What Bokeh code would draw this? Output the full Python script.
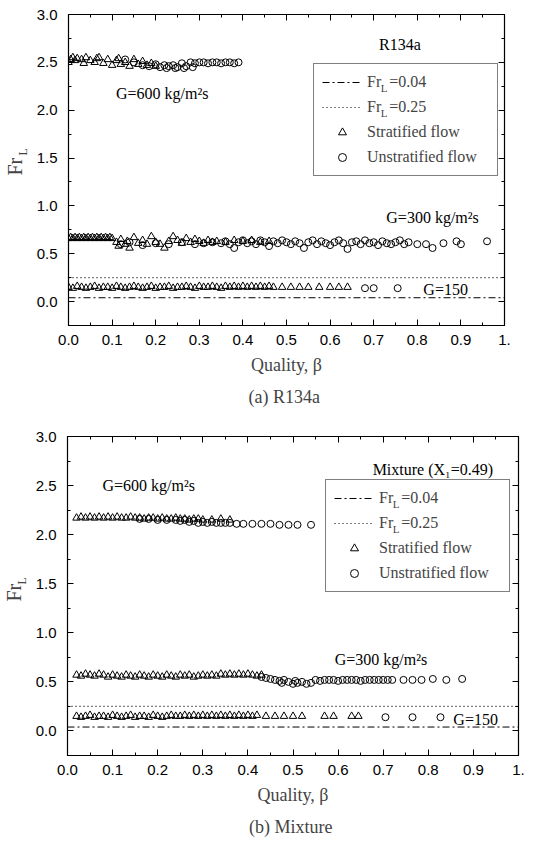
from bokeh.plotting import figure
from bokeh.models import FixedTicker, LinearAxis, Legend, LegendItem, Label, Title, Range1d
from bokeh.embed import file_html
from bokeh.resources import INLINE

# ---------------- axes / ticks ----------------
x_ticks = [0.0, 0.1, 0.2, 0.3, 0.4, 0.5, 0.6, 0.7, 0.8, 0.9, 1.0]
x_tick_labels = ["0.0", "0.1", "0.2", "0.3", "0.4", "0.5", "0.6", "0.7", "0.8", "0.9", "1."]
x_minor = [0.05, 0.15, 0.25, 0.35, 0.45, 0.55, 0.65, 0.75, 0.85, 0.95]
y_ticks = [0.0, 0.5, 1.0, 1.5, 2.0, 2.5, 3.0]
y_tick_labels = ["0.0", "0.5", "1.0", "1.5", "2.0", "2.5", "3.0"]
y_minor = [-0.25, 0.25, 0.75, 1.25, 1.75, 2.25, 2.75]
x_limits = [0.0, 1.0]
y_limits = [-0.25, 3.0]
fr_levels = [0.04, 0.25]
fr_values = ["=0.04", "=0.25"]

# ---------------- (a) R134a ----------------
a600_s_x = [0.000, 0.005, 0.010, 0.015, 0.020, 0.030, 0.035, 0.040, 0.050, 0.060, 0.065, 0.070, 0.080,
            0.090, 0.100, 0.110, 0.115, 0.120, 0.130, 0.140, 0.150, 0.160, 0.170, 0.180, 0.190, 0.200]
a600_s_y = [2.50, 2.53, 2.55, 2.52, 2.54, 2.53, 2.49, 2.55, 2.52, 2.50, 2.54, 2.55, 2.49,
            2.53, 2.47, 2.52, 2.54, 2.48, 2.50, 2.46, 2.53, 2.48, 2.51, 2.47, 2.49, 2.46]
a600_u_x = [0.130, 0.150, 0.170, 0.185, 0.200, 0.210, 0.220, 0.225, 0.230, 0.240, 0.245, 0.250, 0.260, 0.265,
            0.270, 0.280, 0.285, 0.290, 0.300, 0.310, 0.320, 0.330, 0.340, 0.350, 0.360, 0.370, 0.380, 0.390]
a600_u_y = [2.53, 2.50, 2.47, 2.46, 2.48, 2.45, 2.47, 2.44, 2.46, 2.47, 2.44, 2.45, 2.49, 2.44,
            2.46, 2.50, 2.45, 2.49, 2.50, 2.50, 2.49, 2.50, 2.50, 2.49, 2.50, 2.50, 2.49, 2.50]

a300_s_x = [0.000, 0.005, 0.010, 0.015, 0.020, 0.025, 0.030, 0.035, 0.040, 0.045, 0.050, 0.055, 0.060, 0.065,
            0.070, 0.075, 0.080, 0.085, 0.090, 0.095, 0.100,
            0.110, 0.115, 0.120, 0.130, 0.135, 0.140, 0.150, 0.160, 0.170, 0.180, 0.190, 0.200, 0.210, 0.220,
            0.230, 0.240, 0.250, 0.260, 0.270, 0.280, 0.290, 0.300, 0.310, 0.320, 0.330, 0.340, 0.360, 0.380,
            0.400, 0.420, 0.440, 0.460]
a300_s_y = [0.66, 0.67, 0.66, 0.67, 0.66, 0.67, 0.66, 0.67, 0.66, 0.67, 0.66, 0.67, 0.66, 0.67,
            0.66, 0.67, 0.66, 0.67, 0.66, 0.67, 0.66,
            0.62, 0.58, 0.65, 0.60, 0.63, 0.56, 0.67, 0.61, 0.64, 0.60, 0.68, 0.62, 0.60, 0.56,
            0.63, 0.68, 0.64, 0.61, 0.66, 0.62, 0.65, 0.63, 0.61, 0.64, 0.62, 0.63, 0.62, 0.64,
            0.63, 0.64, 0.62, 0.63]
a300_u_x = [0.12, 0.14, 0.17, 0.20, 0.23, 0.26, 0.29, 0.31, 0.33, 0.35,
            0.36, 0.37, 0.38, 0.39, 0.40, 0.41, 0.42, 0.43, 0.44, 0.45,
            0.46, 0.47, 0.48, 0.49, 0.50, 0.51, 0.52, 0.53, 0.54, 0.55,
            0.56, 0.57, 0.58, 0.59, 0.60, 0.61, 0.62, 0.63, 0.64, 0.65,
            0.66, 0.67, 0.68, 0.69, 0.70, 0.71, 0.72, 0.73, 0.74, 0.75,
            0.76, 0.77, 0.78, 0.80, 0.82, 0.835, 0.86, 0.89, 0.90, 0.96]
a300_u_y = [0.60, 0.62, 0.59, 0.61, 0.60, 0.62, 0.60, 0.61, 0.62, 0.61,
            0.63, 0.60, 0.56, 0.62, 0.64, 0.61, 0.63, 0.60, 0.64, 0.62,
            0.58, 0.63, 0.61, 0.64, 0.62, 0.60, 0.63, 0.61, 0.56, 0.62,
            0.64, 0.60, 0.63, 0.61, 0.59, 0.62, 0.64, 0.61, 0.55, 0.62,
            0.63, 0.60, 0.64, 0.61, 0.62, 0.59, 0.63, 0.61, 0.60, 0.62,
            0.64, 0.60, 0.62, 0.60, 0.60, 0.56, 0.61, 0.63, 0.60, 0.63]

a150_s_x = [0.00, 0.01, 0.02, 0.03, 0.04, 0.05, 0.06, 0.07, 0.08, 0.09,
            0.10, 0.11, 0.12, 0.13, 0.14, 0.15, 0.16, 0.17, 0.18, 0.19,
            0.20, 0.21, 0.22, 0.23, 0.24, 0.25, 0.26, 0.27, 0.28, 0.29,
            0.30, 0.31, 0.32, 0.33, 0.34, 0.35, 0.36, 0.37, 0.38, 0.39,
            0.40, 0.41, 0.42, 0.43, 0.44, 0.45, 0.46, 0.47,
            0.49, 0.51, 0.53, 0.55, 0.575, 0.60, 0.62, 0.64]
a150_s_y = [0.15, 0.14, 0.16, 0.15, 0.14, 0.15, 0.16, 0.14, 0.15, 0.15,
            0.14, 0.16, 0.15, 0.14, 0.15, 0.16, 0.15, 0.14, 0.15, 0.16,
            0.14, 0.15, 0.15, 0.16, 0.14, 0.15, 0.15, 0.16, 0.15, 0.14,
            0.16, 0.15, 0.15, 0.16, 0.15, 0.14, 0.16, 0.15, 0.16, 0.15,
            0.16, 0.15, 0.16, 0.15, 0.16, 0.15, 0.16, 0.15,
            0.15, 0.15, 0.15, 0.15, 0.15, 0.15, 0.15, 0.15]
a150_u_x = [0.68, 0.70, 0.755]
a150_u_y = [0.14, 0.14, 0.14]

# ---------------- (b) Mixture ----------------
b600_s_x = [0.02, 0.03, 0.04, 0.05, 0.06, 0.07, 0.08, 0.09, 0.10, 0.11,
            0.12, 0.13, 0.14, 0.15, 0.16, 0.17, 0.18, 0.19, 0.20, 0.21,
            0.22, 0.23, 0.24, 0.25, 0.26, 0.27, 0.28, 0.29, 0.30,
            0.32, 0.34, 0.36]
b600_s_y = [2.17, 2.18, 2.17, 2.18, 2.17, 2.18, 2.17, 2.18, 2.17, 2.18,
            2.17, 2.17, 2.18, 2.17, 2.17, 2.16, 2.17, 2.17, 2.16, 2.17,
            2.16, 2.16, 2.17, 2.16, 2.16, 2.15, 2.16, 2.16, 2.15,
            2.15, 2.16, 2.15]
b600_u_x = [0.16, 0.18, 0.20, 0.22, 0.24, 0.25, 0.26, 0.27, 0.28, 0.29,
            0.30, 0.31, 0.32, 0.33, 0.34, 0.35, 0.36, 0.375, 0.39, 0.41,
            0.43, 0.45, 0.47, 0.49, 0.51, 0.54]
b600_u_y = [2.16, 2.16, 2.15, 2.15, 2.15, 2.14, 2.15, 2.13, 2.14, 2.12,
            2.13, 2.12, 2.13, 2.12, 2.12, 2.12, 2.12, 2.11, 2.11, 2.11,
            2.11, 2.11, 2.10, 2.10, 2.10, 2.10]

b300_s_x = [0.02, 0.03, 0.04, 0.05, 0.06, 0.07, 0.08, 0.09, 0.10, 0.11,
            0.12, 0.13, 0.14, 0.15, 0.16, 0.17, 0.18, 0.19, 0.20, 0.21,
            0.22, 0.23, 0.24, 0.25, 0.26, 0.27, 0.28, 0.29, 0.30, 0.31,
            0.32, 0.33, 0.34, 0.35, 0.36, 0.37, 0.38, 0.39, 0.40, 0.41, 0.42, 0.43]
b300_s_y = [0.57, 0.56, 0.58, 0.57, 0.56, 0.58, 0.57, 0.55, 0.57, 0.56,
            0.55, 0.57, 0.56, 0.55, 0.57, 0.56, 0.55, 0.57, 0.56, 0.55,
            0.57, 0.56, 0.55, 0.57, 0.56, 0.57, 0.55, 0.56, 0.57, 0.56,
            0.57, 0.56, 0.58, 0.57, 0.58, 0.57, 0.58, 0.57, 0.58, 0.57, 0.56, 0.57]
b300_u_x = [0.43, 0.44, 0.45, 0.46, 0.47, 0.475, 0.48, 0.49, 0.50, 0.505,
            0.51, 0.52, 0.53, 0.54,
            0.55, 0.56, 0.57, 0.58, 0.59, 0.60, 0.61, 0.62, 0.63, 0.64,
            0.65, 0.66, 0.67, 0.68, 0.69, 0.70, 0.71, 0.72,
            0.745, 0.765, 0.785, 0.81, 0.84, 0.875]
b300_u_y = [0.55, 0.54, 0.53, 0.52, 0.51, 0.49, 0.52, 0.50, 0.48, 0.51,
            0.49, 0.50, 0.48, 0.49,
            0.52, 0.51, 0.52, 0.52, 0.52, 0.51, 0.52, 0.52, 0.52, 0.52,
            0.51, 0.52, 0.52, 0.52, 0.52, 0.52, 0.52, 0.52,
            0.52, 0.52, 0.52, 0.53, 0.52, 0.53]

b150_s_x = [0.02, 0.03, 0.04, 0.05, 0.06, 0.07, 0.08, 0.09, 0.10, 0.11,
            0.12, 0.13, 0.14, 0.15, 0.16, 0.17, 0.18, 0.19, 0.20, 0.21,
            0.22, 0.23, 0.24, 0.25, 0.26, 0.27, 0.28, 0.29, 0.30, 0.31,
            0.32, 0.33, 0.34, 0.35, 0.36, 0.37, 0.38, 0.39, 0.40, 0.41, 0.42,
            0.44, 0.46, 0.48, 0.50, 0.52, 0.57, 0.59, 0.63, 0.645]
b150_s_y = [0.15, 0.14, 0.15, 0.16, 0.14, 0.15, 0.15, 0.14, 0.16, 0.15,
            0.14, 0.15, 0.16, 0.14, 0.15, 0.15, 0.14, 0.16, 0.15, 0.14,
            0.15, 0.16, 0.15, 0.15, 0.16, 0.15, 0.16, 0.15, 0.16, 0.15,
            0.16, 0.15, 0.16, 0.15, 0.16, 0.15, 0.16, 0.15, 0.16, 0.15, 0.16,
            0.15, 0.15, 0.15, 0.15, 0.15, 0.15, 0.15, 0.15, 0.15]
b150_u_x = [0.705, 0.765, 0.827]
b150_u_y = [0.14, 0.14, 0.14]

SERIF = "Liberation Serif"
SANS = "Liberation Sans"


def make_panel(width, height, borders, strat, unstrat, notes, caption, legend_loc, ylab_offsets):
    left, right, top, bottom = borders
    p = figure(width=width, height=height, output_backend="svg", toolbar_location=None,
               x_range=Range1d(x_limits[0], x_limits[1]), y_range=Range1d(y_limits[0], y_limits[1]),
               min_border_left=left, min_border_right=right, min_border_top=top, min_border_bottom=bottom)
    p.xgrid.visible = False
    p.ygrid.visible = False
    p.outline_line_color = "black"
    p.outline_line_width = 1.2
    p.background_fill_color = "white"
    p.border_fill_color = "white"

    xt = FixedTicker(ticks=x_ticks, minor_ticks=x_minor)
    yt = FixedTicker(ticks=y_ticks, minor_ticks=y_minor)
    ax_bottom = p.xaxis[0]
    ax_left = p.yaxis[0]
    ax_bottom.ticker = xt
    ax_left.ticker = yt
    ax_bottom.major_label_overrides = {t: s for t, s in zip(x_ticks, x_tick_labels)}
    ax_left.major_label_overrides = {t: s for t, s in zip(y_ticks, y_tick_labels)}
    ax_top = LinearAxis(ticker=xt)
    ax_right = LinearAxis(ticker=yt)
    ax_top.major_label_overrides = {t: "" for t in x_ticks}
    ax_right.major_label_overrides = {t: "" for t in y_ticks}
    p.add_layout(ax_top, "above")
    p.add_layout(ax_right, "right")
    for ax in [ax_bottom, ax_left, ax_top, ax_right]:
        ax.major_tick_in = 6
        ax.major_tick_out = 0
        ax.minor_tick_in = 3
        ax.minor_tick_out = 0
        ax.axis_line_color = "black"
        ax.major_tick_line_color = "black"
        ax.minor_tick_line_color = "black"
        ax.major_label_text_font = SANS
        ax.major_label_text_font_size = "15px"
        ax.major_label_text_color = "black"
    for ax in [ax_top, ax_right]:
        ax.major_label_text_color = None
        ax.major_label_text_font_size = "0px"
        ax.major_label_standoff = 0
        ax.axis_label_standoff = 0
    ax_bottom.major_label_standoff = 9
    ax_left.major_label_standoff = 11
    ax_bottom.axis_label = "Quality, \u03b2"
    ax_bottom.axis_label_text_font = SERIF
    ax_bottom.axis_label_text_font_size = "18px"
    ax_bottom.axis_label_text_font_style = "normal"
    ax_bottom.axis_label_standoff = 7

    # y-axis title "Fr" with subscript "L", built from two side titles
    off_l, off_fr = ylab_offsets
    p.add_layout(Title(text="L", align="left", vertical_align="top", offset=off_l, standoff=3,
                       text_font=SERIF, text_font_size="12px", text_font_style="normal"), "left")
    p.add_layout(Title(text="Fr", align="left", vertical_align="bottom", offset=off_fr, standoff=-22,
                       text_font=SERIF, text_font_size="20px", text_font_style="normal"), "left")

    l_dd = p.line(x=x_limits, y=[fr_levels[0], fr_levels[0]], line_color="black", line_width=1,
                  line_dash="7 3 2 3")
    l_dt = p.line(x=x_limits, y=[fr_levels[1], fr_levels[1]], line_color="black", line_width=1.2,
                  line_dash="1 3")
    r_s = None
    for xs, ys in strat:
        r_s = p.scatter(x=xs, y=ys, marker="triangle", size=7.5, fill_color=None,
                        line_color="black", line_width=1)
    r_u = None
    for xs, ys in unstrat:
        r_u = p.scatter(x=xs, y=ys, marker="circle", size=7, fill_color=None,
                        line_color="black", line_width=1)

    for (tx, ty, txt) in notes:
        p.add_layout(Label(x=tx, y=ty, text=txt, text_align="center", text_baseline="middle",
                           text_font=SERIF, text_font_size="16px", text_color="black"))

    pad, gw, stand, lh, sp = 8, 40, 5, 20, 5
    # subscript L of the two Fr legend labels, in frame pixels (legend background is transparent)
    lx, ly = legend_loc
    l_top = ly + 2 * pad + 4 * lh + 3 * sp
    for k in range(2):
        row_c = l_top - pad - lh / 2 - k * (lh + sp)
        p.add_layout(Label(x=lx + pad + gw + stand + 14.2, y=row_c - 4, x_units="screen", y_units="screen",
                           text="L", text_align="left", text_baseline="middle",
                           text_font=SERIF, text_font_size="11px"))
    legend = Legend(items=[LegendItem(label="Fr\u2002" + fr_values[0], renderers=[l_dd]),
                           LegendItem(label="Fr\u2002" + fr_values[1], renderers=[l_dt]),
                           LegendItem(label="Stratified flow", renderers=[r_s]),
                           LegendItem(label="Unstratified flow", renderers=[r_u])],
                    location=legend_loc, margin=0, padding=pad, spacing=sp,
                    glyph_width=gw, glyph_height=lh, label_height=lh, label_standoff=stand,
                    label_width=122,
                    label_text_font=SERIF, label_text_font_size="16px",
                    border_line_color="black", border_line_width=1,
                    background_fill_alpha=0)
    p.add_layout(legend)

    p.add_layout(Title(text=caption, align="center", text_font=SERIF, text_font_size="18px",
                       text_font_style="normal", standoff=15), "below")
    return p


pa = make_panel(552, 425, (68, 48, 14, 100),
                [(a600_s_x, a600_s_y), (a300_s_x, a300_s_y), (a150_s_x, a150_s_y)],
                [(a600_u_x, a600_u_y), (a300_u_x, a300_u_y), (a150_u_x, a150_u_y)],
                [(0.76, 2.69, "R134a"), (0.215, 2.17, "G=600 kg/m\u00b2s"),
                 (0.835, 0.88, "G=300 kg/m\u00b2s"), (0.865, 0.13, "G=150")],
                "(a)  R134a", (245, 149), (170, 150))
pb = make_panel(552, 427, (67, 34, 11, 97),
                [(b600_s_x, b600_s_y), (b300_s_x, b300_s_y), (b150_s_x, b150_s_y)],
                [(b600_u_x, b600_u_y), (b300_u_x, b300_u_y), (b150_u_x, b150_u_y)],
                [(0.81, 2.66, "Mixture (X\u2081=0.49)"), (0.18, 2.50, "G=600 kg/m\u00b2s"),
                 (0.695, 0.73, "G=300 kg/m\u00b2s"), (0.905, 0.12, "G=150")],
                "(b)  Mixture", (258, 163), (171, 154))

# two independent roots stacked on the page (keeps each panel's own frame geometry)
open("out.html", "w").write(file_html([pa, pb], INLINE))
